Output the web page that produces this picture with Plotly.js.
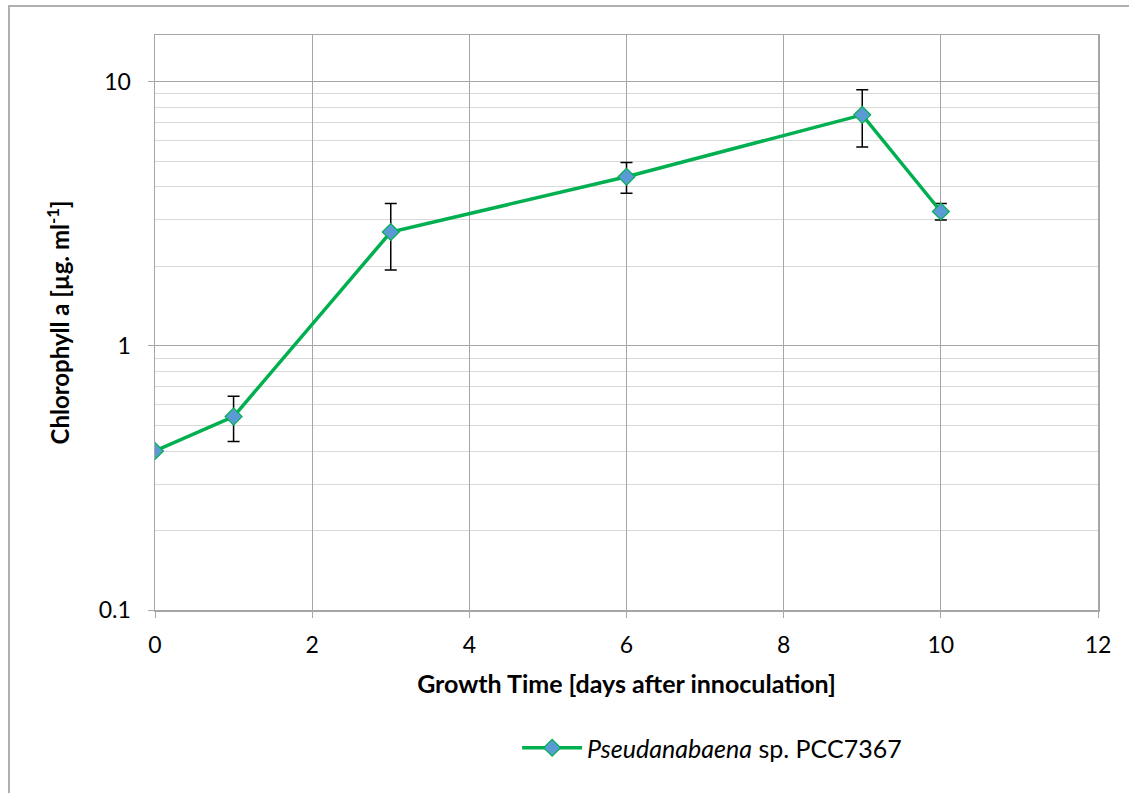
<!DOCTYPE html>
<html>
<head>
<meta charset="utf-8">
<script src="https://cdn.plot.ly/plotly-3.0.1.min.js"></script>
<style>
html,body{margin:0;padding:0;background:#fff;overflow:hidden;}
#chart{width:1129px;height:793px;}
#frame{position:absolute;left:8px;top:5px;width:1300px;height:900px;border-left:2px solid #b0b0b0;border-top:2px solid #b0b0b0;pointer-events:none;}
</style>
</head>
<body>
<div id="chart"></div>
<div id="frame"></div>
<script>
const days = [0, 1, 3, 6, 9, 10];
const chlorophyll = [0.40, 0.54, 2.70, 4.37, 7.50, 3.23];
const chlorophyllErr = [0, 0.105, 0.76, 0.58, 1.83, 0.23];
const seriesName = '<i>Pseudanabaena</i> sp. PCC7367';
const xTitle = 'Growth Time [days after innoculation]';
const yTitle = 'Chlorophyll a [µg. ml<sup>-1</sup>]';

const FONT = 'Lato, "Open Sans", sans-serif';

const trace = {
  x: days,
  y: chlorophyll,
  type: 'scatter',
  mode: 'lines+markers',
  name: seriesName,
  line: {color: '#00b050', width: 3.5},
  marker: {symbol: 'diamond', size: 13, color: '#5b9bd5', line: {color: '#00b050', width: 1.2}},
  error_y: {type: 'data', array: chlorophyllErr, visible: true, color: '#000000', thickness: 1.5, width: 6}
};

const layout = {
  width: 1129,
  height: 793,
  margin: {l: 155, r: 31, t: 35, b: 183},
  paper_bgcolor: '#ffffff',
  plot_bgcolor: '#ffffff',
  font: {family: FONT, size: 23, color: '#000000'},
  showlegend: true,
  legend: {
    orientation: 'h',
    x: 0.384, xanchor: 'left',
    y: -0.2, yanchor: 'top',
    font: {family: FONT, size: 25, color: '#000000'},
    itemwidth: 60
  },
  xaxis: {
    range: [0, 12],
    dtick: 2,
    tick0: 0,
    showgrid: true,
    gridcolor: '#a6a6a6',
    gridwidth: 1,
    zeroline: false,
    showline: true,
    linecolor: '#a6a6a6',
    linewidth: 1.5,
    mirror: true,
    ticks: 'outside',
    ticklen: 6,
    tickcolor: '#a6a6a6',
    ticklabelstandoff: 8,
    tickfont: {family: FONT, size: 23, color: '#000000'},
    title: {text: xTitle, font: {family: FONT, size: 25, color: '#000000', weight: 'bold'}, standoff: 18}
  },
  yaxis: {
    type: 'log',
    range: [-1, Math.log10(15.05)],
    dtick: 1,
    showgrid: true,
    gridcolor: '#a6a6a6',
    gridwidth: 1,
    zeroline: false,
    showline: true,
    linecolor: '#a6a6a6',
    linewidth: 1.5,
    mirror: true,
    ticks: 'outside',
    ticklen: 6,
    tickcolor: '#a6a6a6',
    ticklabelstandoff: 12,
    tickfont: {family: FONT, size: 23, color: '#000000'},
    minor: {dtick: 'D1', showgrid: true, gridcolor: '#d9d9d9', gridwidth: 1, ticks: ''},
    title: {text: yTitle, font: {family: FONT, size: 24, color: '#000000', weight: 'bold'}, standoff: 22}
  }
};

Plotly.newPlot('chart', [trace], layout, {displayModeBar: false, staticPlot: true});
</script>
</body>
</html>
